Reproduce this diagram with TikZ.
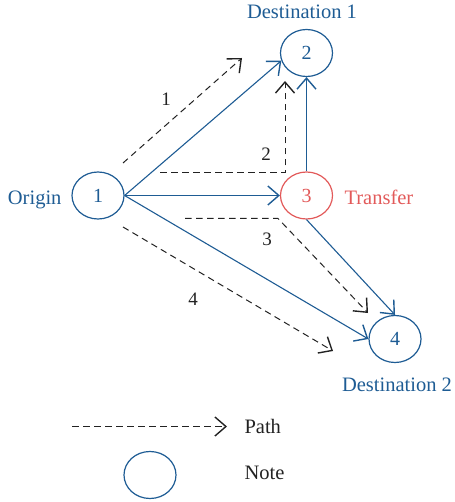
\documentclass[tikz,border=0pt]{standalone}
\usepackage{fontspec}
\setmainfont{Liberation Serif}
\usetikzlibrary{arrows.meta,shapes.geometric}
\definecolor{netblue}{RGB}{30,92,148}
\definecolor{netred}{RGB}{226,90,90}
\definecolor{pathgray}{RGB}{34,34,34}
\tikzset{
  station/.style={ellipse,draw=netblue,line width=1.2pt,minimum width=52pt,minimum height=47pt,inner sep=0pt,text=netblue,font=\fontsize{20}{24}\selectfont},
  link/.style={draw=netblue,line width=1.1pt,-{Straight Barb[length=11pt,width=19pt,line width=1.4pt]}},
  route/.style={draw=pathgray,line width=1pt,dash pattern=on 6.5pt off 4.5pt,-{Straight Barb[length=11pt,width=19pt,line width=1.4pt]}},
  tag/.style={font=\fontsize{20.5}{24}\selectfont},
  num/.style={font=\fontsize{19}{22}\selectfont,text=pathgray}
}
\begin{document}
\begin{tikzpicture}[x=1pt,y=-1pt]
\useasboundingbox (0,0) rectangle (454,502);

% stations
\node[station] (n1) at (98,195.5) {1};
\node[station] (n2) at (306.5,53) {2};
\node[station,draw=netred,text=netred] (n3) at (306.5,195.5) {3};
\node[station] (n4) at (395,339) {4};

% station labels
\node[tag,text=netblue,anchor=base] (d1) at (302,19) {Destination 1};
\node[tag,text=netblue,anchor=base east] (org) at (65,205) {Origin};
\node[tag,text=netred,anchor=base west] (tr) at (341,205) {Transfer};
\node[tag,text=netblue,anchor=base] (d2) at (397,391) {Destination 2};

% network links
\draw[link] (n1.east) -- (n2.197);
\draw[link] (n1.east) -- (n3.west);
\draw[link] (n3.north) -- (n2.south);
\draw[link] (n1.east) -- (n4.west);
\draw[link] (n3.south) -- (n4.north);

% candidate paths
\coordinate (p1s) at (123,163);
\coordinate (p1e) at (242,58);
\coordinate (p2s) at (160,172.5);
\coordinate (p2c) at (285,172.5);
\coordinate (p2e) at (285,81);
\coordinate (p3s) at (185,218.5);
\coordinate (p3c) at (278,218.5);
\coordinate (p3e) at (368,313);
\coordinate (p4s) at (123,227);
\coordinate (p4e) at (333,351);
\draw[route] (p1s) -- (p1e);
\draw[route] (p2s) -- (p2c) -- (p2e);
\draw[route] (p3s) -- (p3c) -- (p3e);
\draw[route] (p4s) -- (p4e);
\node[num] (l1) at (166,99) {1};
\node[num] (l2) at (266,154) {2};
\node[num] (l3) at (267,239) {3};
\node[num] (l4) at (193,299) {4};

% legend
\coordinate (ls) at (72,426.5);
\coordinate (le) at (227,426.5);
\draw[route] (ls) -- (le);
\node[tag,text=pathgray,anchor=base west] (lp) at (241,433) {Path};
\node[station,text=pathgray] (ln) at (150,475) {};
\node[tag,text=pathgray,anchor=base west] (lnote) at (241,479) {Note};
\end{tikzpicture}
\end{document}
